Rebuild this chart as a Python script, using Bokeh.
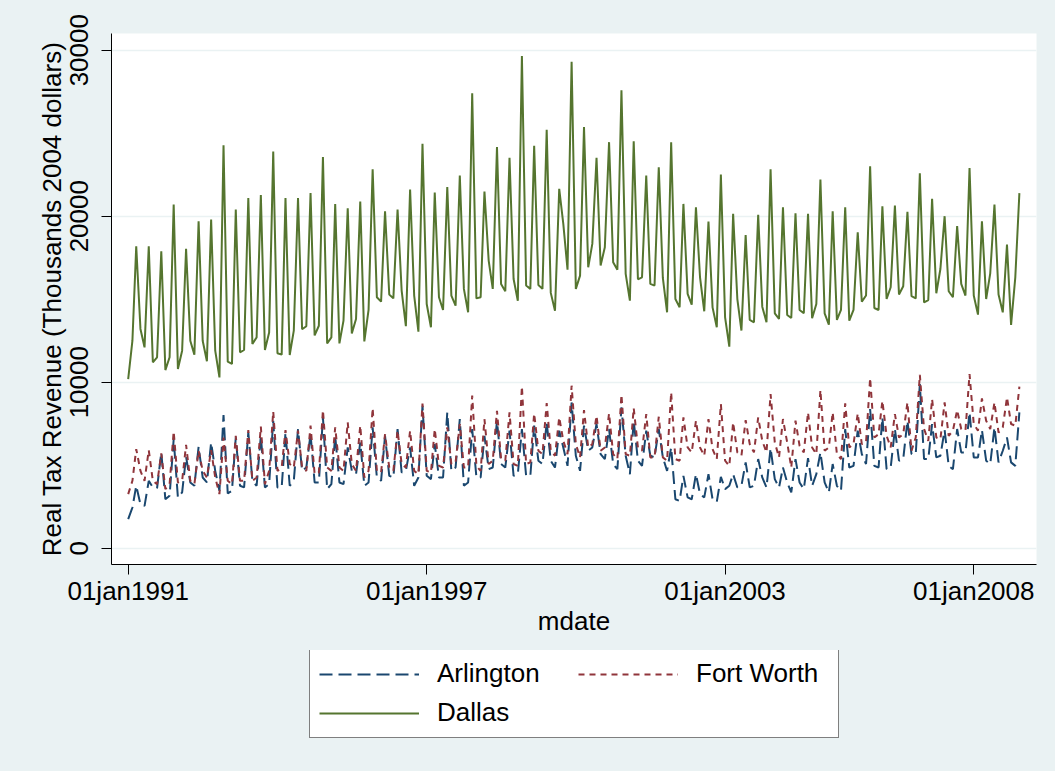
import pandas as pd
from bokeh.plotting import figure
from bokeh.layouts import column
from bokeh.models import FixedTicker, Legend, LegendItem, Range1d
from bokeh.embed import file_html
from bokeh.resources import INLINE

# ---------------- data (monthly, Jan 1991 - Dec 2008) ----------------
start_month = "1991-01-01"

dallas = [
    10190, 12500, 18190, 13210, 12100, 18190, 11200, 11500, 17890, 10730, 11500, 20700,
    10790, 11900, 18030, 12500, 11660, 19700, 12500, 11260, 19800, 11900, 10290, 24280,
    11240, 11100, 20400, 11800, 11940, 21100, 12300, 12700, 21270, 11940, 13000, 23900,
    11740, 11660, 21090, 11640, 13110, 21100, 13190, 13370, 21400, 12820, 13400, 23560,
    12340, 12700, 20740, 12340, 13710, 20480, 12940, 13810, 20880, 12460, 14350, 22830,
    15120, 14850, 20300, 15280, 15050, 20400, 15520, 13370, 21610, 15220, 13040, 24360,
    14710, 13310, 21430, 15120, 14350, 21750, 15220, 14610, 22450, 15620, 14210, 27400,
    15050, 15120, 21490, 17330, 15620, 24160, 15920, 15480, 23520, 16220, 14910, 29650,
    15820, 15620, 24240, 15860, 15620, 25210, 15380, 14310, 21650, 19540, 16780, 29310,
    15620, 16420, 25370, 16920, 18330, 23520, 17030, 18130, 24460, 17230, 16780, 27580,
    16520, 14910, 24520, 16200, 16320, 22450, 15920, 15820, 22950, 16280, 14210, 24460,
    15010, 14510, 20740, 15320, 14670, 20540, 16320, 14270, 19680, 14510, 13310, 22510,
    13910, 12140, 20140, 15010, 13110, 18870, 13750, 13610, 20080, 14550, 13610, 22830,
    14150, 13810, 20540, 14050, 13870, 20180, 14350, 14150, 20140, 13850, 14710, 22210,
    14150, 13470, 20300, 13750, 14350, 20540, 13710, 14350, 19030, 14850, 15220, 23010,
    14470, 14350, 20600, 15010, 15720, 20640, 15280, 15780, 20260, 15180, 15050, 22590,
    14810, 14950, 21050, 15360, 16820, 20000, 15480, 15120, 19400, 15920, 15220, 22900,
    15220, 14070, 19700, 15010, 16560, 20700, 15280, 14210, 18290, 13450, 16320, 21390,
]

arlington = [
    1750, 2450, 3760, 2650, 2550, 4060, 3660, 3620, 5770, 2950, 3160, 6570,
    3050, 3360, 5510, 3960, 3760, 6110, 4260, 3960, 6370, 4660, 3460, 8020,
    3300, 3460, 6670, 3760, 3660, 6970, 4060, 3760, 6770, 3660, 3860, 7680,
    3660, 3660, 6970, 3760, 4060, 7180, 4660, 4860, 6870, 3960, 3960, 7880,
    3560, 3860, 6770, 3960, 3860, 6070, 4660, 4460, 6370, 3760, 3960, 7280,
    4260, 4060, 6770, 4360, 4260, 7180, 4560, 4660, 6070, 3760, 4260, 8580,
    4360, 4160, 6270, 4260, 4260, 8180, 4660, 4860, 7780, 3760, 3960, 7180,
    4260, 4260, 6770, 4760, 4860, 7680, 5070, 4860, 7080, 4360, 4460, 7180,
    4360, 4360, 7380, 5270, 5070, 7580, 5270, 4860, 7080, 6070, 4960, 8780,
    5570, 4660, 7380, 5870, 6070, 7480, 5670, 5370, 7180, 5070, 4760, 8480,
    5570, 4460, 7680, 5270, 4960, 7080, 5570, 5470, 7180, 5470, 4660, 6070,
    2950, 2850, 4360, 3060, 2950, 4460, 3260, 3060, 4460, 2950, 2790, 4300,
    3560, 3760, 4460, 3660, 3760, 5170, 3660, 3760, 5370, 4260, 3660, 6030,
    4160, 3660, 4860, 3960, 3360, 5370, 3960, 3560, 5430, 3760, 4460, 5770,
    3960, 3360, 5070, 3760, 3460, 7180, 4860, 4960, 7080, 5670, 5070, 8380,
    4960, 4860, 7880, 4760, 4860, 7180, 5270, 5370, 7680, 5670, 5670, 9890,
    5370, 5370, 7480, 5470, 5570, 7120, 4960, 4760, 7180, 5770, 5770, 8180,
    5470, 5470, 7120, 5270, 5070, 7280, 5170, 5870, 6670, 5170, 4960, 8180,
]

fort_worth = [
    3260, 4060, 5970, 4660, 4060, 5910, 4060, 3860, 5710, 3560, 3860, 7040,
    3960, 4060, 6230, 4060, 3860, 5870, 4660, 4260, 5910, 4260, 3260, 6670,
    4060, 3860, 6770, 4060, 4060, 7120, 4060, 4260, 7320, 3860, 4660, 8240,
    4660, 4860, 7120, 5070, 4860, 7080, 4860, 4660, 7380, 4460, 4560, 8320,
    4860, 4660, 7280, 4860, 4660, 7580, 5070, 4660, 7380, 4260, 4660, 8440,
    4660, 4560, 6870, 4860, 4660, 7080, 5070, 4860, 7080, 4660, 4460, 8720,
    4660, 4560, 7180, 4960, 4860, 7280, 5070, 5170, 7480, 4860, 4860, 9190,
    4960, 4660, 7780, 5070, 5270, 8280, 5370, 5270, 8180, 5070, 4960, 9750,
    5070, 5170, 8120, 5870, 5670, 8740, 5870, 5570, 7880, 6470, 5670, 9790,
    6270, 5470, 8320, 6070, 6270, 7980, 5870, 6070, 8120, 5670, 5370, 9250,
    5670, 5570, 8440, 6070, 5870, 8080, 5470, 5470, 7920, 5470, 5270, 9390,
    5370, 5270, 7880, 6070, 5770, 7680, 6070, 5570, 7780, 5970, 5370, 8680,
    5270, 4960, 7580, 5770, 5570, 7720, 6270, 5770, 7880, 6470, 5770, 9290,
    6370, 5470, 7780, 6370, 4860, 7680, 6170, 5770, 8180, 6070, 5670, 9530,
    5870, 6070, 8180, 5670, 5370, 8720, 6070, 6270, 8120, 6270, 6370, 10250,
    6670, 6870, 8880, 6770, 6070, 8080, 6670, 6870, 8780, 5870, 6670, 10450,
    7180, 6470, 8980, 6670, 6570, 8780, 6770, 7080, 8320, 7180, 7080, 10490,
    7480, 7080, 9020, 7680, 7180, 8780, 6970, 7280, 9090, 7480, 7380, 9730,
]

series_names = ["Arlington", "Fort Worth", "Dallas"]
tick_dates = ["1991-01-01", "1997-01-01", "2003-01-01", "2008-01-01"]
tick_labels = ["01jan1991", "01jan1997", "01jan2003", "01jan2008"]
y_ticks = [0, 10000, 20000, 30000]

# Stata-style daily dates (days since 01jan1960)
epoch = pd.Timestamp("1960-01-01")
months = pd.date_range(start_month, periods=len(dallas), freq="MS")
x = [int((d - epoch).days) for d in months]
xt = [int((pd.Timestamp(d) - epoch).days) for d in tick_dates]

# ---------------- styling ----------------
BG = "#EAF2F3"
FONT = "Liberation Sans"
NAVY = "#1A476F"
MAROON = "#90353B"
GREEN = "#55752F"
styles = [
    dict(line_color=NAVY, line_width=2, line_dash="13 6"),
    dict(line_color=MAROON, line_width=2, line_dash="6 5"),
    dict(line_color=GREEN, line_width=2),
]

TOP_H = 650
W, H = 1055, 771

p = figure(
    width=W, height=TOP_H,
    frame_width=925, frame_height=531,
    min_border_left=111, min_border_right=19, min_border_top=33,
    min_border_bottom=TOP_H - 33 - 531,
    output_backend="svg", toolbar_location=None,
    x_range=Range1d(11200.4, 17992.7), y_range=Range1d(-982, 31006),
)
p.background_fill_color = "white"
p.border_fill_color = BG
p.outline_line_color = None

for vals, st in zip([arlington, fort_worth, dallas], styles):
    p.line(x, vals, **st)

# axes
p.xaxis.ticker = FixedTicker(ticks=xt)
p.xaxis.major_label_overrides = {t: lab for t, lab in zip(xt, tick_labels)}
p.yaxis.ticker = FixedTicker(ticks=y_ticks)
p.yaxis.major_label_orientation = "vertical"
p.xaxis.axis_label = "mdate"
p.yaxis.axis_label = "Real Tax Revenue (Thousands 2004 dollars)"
for ax in (p.xaxis, p.yaxis):
    ax.axis_line_color = "black"
    ax.axis_line_width = 1
    ax.major_tick_line_color = "black"
    ax.major_tick_in = 0
    ax.major_tick_out = 10
    ax.minor_tick_line_color = None
    ax.major_label_text_font = FONT
    ax.major_label_text_font_size = "26px"
    ax.major_label_text_color = "black"
    ax.axis_label_text_font = FONT
    ax.axis_label_text_font_size = "26px"
    ax.axis_label_text_font_style = "normal"
    ax.axis_label_text_color = "black"
p.xaxis.major_label_standoff = 1
p.xaxis.axis_label_standoff = -3
p.yaxis.major_label_standoff = 13
p.yaxis.axis_label_standoff = 1

p.xgrid.grid_line_color = None
p.ygrid.grid_line_color = BG
p.ygrid.grid_line_width = 1.5

# ---------------- legend strip below the graph ----------------
q = figure(
    width=W, height=H - TOP_H,
    min_border_left=0, min_border_right=0, min_border_top=0, min_border_bottom=0,
    x_axis_location=None, y_axis_location=None,
    output_backend="svg", toolbar_location=None,
    x_range=Range1d(0, 1), y_range=Range1d(0, 1),
)
q.background_fill_color = BG
q.border_fill_color = BG
q.outline_line_color = None
q.grid.visible = False

nan = float("nan")
keys = [q.line([nan], [nan], **st) for st in styles]
legend = Legend(
    items=[LegendItem(label=n, renderers=[r]) for n, r in zip(series_names, keys)],
    location=(198, 33),
    orientation="horizontal", ncols=2,
    glyph_width=100, glyph_height=20, label_standoff=18,
    label_width=133, label_height=30, spacing=8, padding=9, margin=0,
    label_text_font=FONT, label_text_font_size="26px", label_text_color="black",
    border_line_color="black", border_line_width=1,
    background_fill_color="white", background_fill_alpha=1,
)
q.add_layout(legend, "center")

page = column(p, q, spacing=0, styles={"background-color": BG})
open("out.html", "w").write(file_html(page, INLINE))
